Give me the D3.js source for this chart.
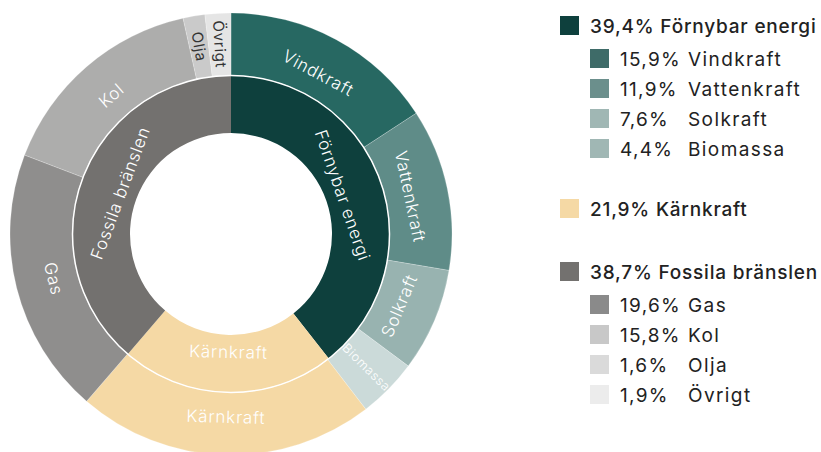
<!DOCTYPE html>
<html>
<head>
<meta charset="utf-8">
<script src="https://cdn.jsdelivr.net/npm/d3@7"></script>
<style>
  html, body { margin: 0; padding: 0; background: #fff; }
  svg { display: block; font-family: Inter, "Noto Sans", sans-serif; }
</style>
</head>
<body>
<svg id="chart" width="821" height="452"></svg>
<script>
// inner ring: main groups
const groups = ["Förnybar energi", "Kärnkraft", "Fossila bränslen"];
const groupValues = [39.4, 21.9, 38.7];
const groupColors = ["#0e403d", "#f5d9a5", "#73716f"];

// outer ring: sub items, parent index into groups
const subLabels = ["Vindkraft", "Vattenkraft", "Solkraft", "Biomassa", "Kärnkraft", "Gas", "Kol", "Olja", "Övrigt"];
const subValues = [15.9, 11.9, 7.6, 4.4, 21.9, 19.6, 15.8, 1.6, 1.9];
const subParent = [0, 0, 0, 0, 1, 2, 2, 2, 2];
const subColors = ["#276862", "#5f8c88", "#98b3b0", "#cbdad9", "#f5d9a5", "#8f8e8d", "#adadac", "#cacaca", "#e5e5e5"];
const subLegendColors = ["#3e6b68", "#6b8f8c", "#a0b7b4", "#a0b7b4", null, "#8a8a8a", "#c8c8c8", "#dadada", "#ececec"];

const sv = d3.formatLocale({ decimal: ",", thousands: " ", grouping: [3], currency: ["", " kr"] });
const pct = v => sv.format(".1f")(v) + "%";

const svg = d3.select("#chart");
const cx = 231, cy = 234;
const r0 = 101, r1 = 158.5, r2 = 221;

const pie = d3.pie().value(d => d.value).sort(null);
const innerArc = d3.arc().innerRadius(r0).outerRadius(r1);
const outerArc = d3.arc().innerRadius(r1).outerRadius(r2);

const innerData = pie(groups.map((g, i) => ({ label: g, value: groupValues[i], color: groupColors[i] })));
const outerData = pie(subLabels.map((s, i) => ({ label: s, value: subValues[i], color: subColors[i] })));

const g = svg.append("g").attr("transform", `translate(${cx},${cy})`);

g.selectAll("path.outer")
  .data(outerData)
  .enter().append("path")
  .attr("class", "outer")
  .attr("d", outerArc)
  .attr("fill", d => d.data.color)
  .attr("stroke", "rgba(255,255,255,0.35)")
  .attr("stroke-width", 0.6);

g.selectAll("path.inner")
  .data(innerData)
  .enter().append("path")
  .attr("class", "inner")
  .attr("d", innerArc)
  .attr("fill", d => d.data.color);

g.append("circle")
  .attr("r", r1)
  .attr("fill", "none")
  .attr("stroke", "#fff")
  .attr("stroke-width", 1.5);

// label rotation: tangential for big slices, radial for small ones
function labelTransform(d, radius, radial) {
  const mid = (d.startAngle + d.endAngle) / 2;
  const deg = mid * 180 / Math.PI;
  const x = Math.sin(mid) * radius, y = -Math.cos(mid) * radius;
  let rot;
  if (radial) {
    rot = deg < 180 ? deg - 90 : deg + 90;
  } else {
    rot = deg < 90 ? deg : (deg < 270 ? deg - 180 : deg - 360);
  }
  return `translate(${x},${y}) rotate(${rot})`;
}

g.selectAll("text.inner")
  .data(innerData)
  .enter().append("text")
  .attr("class", "inner")
  .attr("transform", d => labelTransform(d, 118, false))
  .attr("text-anchor", "middle")
  .attr("dy", "0.35em")
  .attr("fill", "#fff")
  .attr("font-size", 17)
  .attr("letter-spacing", 0.8)
  .attr("font-weight", 300)
  .text(d => d.data.label);

g.selectAll("text.outer")
  .data(outerData)
  .enter().append("text")
  .attr("class", "outer")
  .attr("transform", d => d.data.value < 5
    ? labelTransform(d, 190, true)
    : labelTransform(d, 183, false))
  .attr("text-anchor", "middle")
  .attr("dy", "0.35em")
  .attr("fill", d => d.data.value < 3 ? "#333" : "#fff")
  .attr("font-size", d => d.data.value < 3 ? 15 : (d.data.value < 5 ? 12.5 : 17))
  .attr("letter-spacing", d => d.data.value < 5 ? 0.7 : 0.8)
  .attr("font-weight", d => d.data.value < 3 ? 400 : 300)
  .text(d => d.data.label);

// legend
const legend = svg.append("g").attr("class", "legend");
let y = 16;
groups.forEach((grp, gi) => {
  legend.append("rect")
    .attr("x", 560).attr("y", y).attr("width", 19).attr("height", 19)
    .attr("fill", groupColors[gi]);
  legend.append("text")
    .attr("x", 590).attr("y", y + 17)
    .attr("font-size", 19).attr("font-weight", 500).attr("fill", "#222")
    .attr("letter-spacing", 0.8)
    .text(pct(groupValues[gi]) + " " + grp);
  y += 33;
  const kids = subLabels.map((s, i) => i).filter(i => subParent[i] === gi && groupValues[gi] !== subValues[i]);
  kids.forEach(i => {
    legend.append("rect")
      .attr("x", 590).attr("y", y).attr("width", 19).attr("height", 19)
      .attr("fill", subLegendColors[i]);
    legend.append("text")
      .attr("x", 620).attr("y", y + 17)
      .attr("font-size", 19).attr("font-weight", 400).attr("fill", "#222")
      .attr("letter-spacing", 1.3)
      .text(pct(subValues[i]));
    legend.append("text")
      .attr("x", 688).attr("y", y + 17)
      .attr("font-size", 19).attr("font-weight", 400).attr("fill", "#222")
      .attr("letter-spacing", 1.4)
      .text(subLabels[i]);
    y += 30;
  });
  y += 30;
});
</script>
</body>
</html>
